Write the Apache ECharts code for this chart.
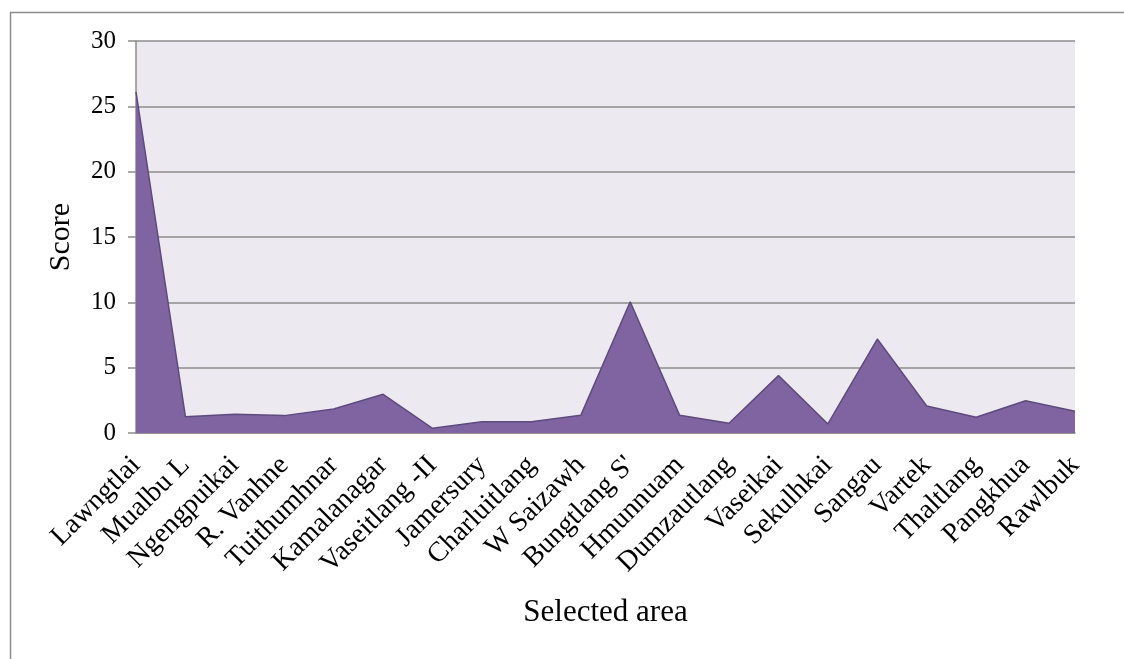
<!DOCTYPE html>
<html>
<head>
<meta charset="utf-8">
<script src="https://cdn.jsdelivr.net/npm/echarts@6/dist/echarts.min.js"></script>
<style>html,body{margin:0;padding:0;background:#fff;}#c{width:1124px;height:659px;}</style>
</head>
<body>
<div id="c"></div>
<script>
const categories = ['Lawngtlai','Mualbu L','Ngengpuikai','R. Vanhne','Tuithumhnar','Kamalanagar','Vaseitlang -II','Jamersury','Charluitlang','W Saizawh','Bungtlang S\'','Hmunnuam','Dumzautlang','Vaseikai','Sekulhkai','Sangau','Vartek','Thaltlang','Pangkhua','Rawlbuk'];
const scores = [26.1, 1.25, 1.43, 1.33, 1.84, 2.96, 0.36, 0.87, 0.87, 1.35, 10.05, 1.35, 0.74, 4.39, 0.69, 7.19, 2.07, 1.2, 2.47, 1.66];
const yTicks = {min: 0, max: 30, interval: 5};

const chart = echarts.init(document.getElementById('c'));
const serif = '"Liberation Serif","Times New Roman",serif';
chart.setOption({
  animation: false,
  graphic: [{
    type: 'rect', shape: {x: 10.5, y: 12.5, width: 1200, height: 700},
    style: {fill: 'none', stroke: '#8c8c8c', lineWidth: 1.5}, z: -10
  }],
  grid: {left: 136, right: 49, top: 41, bottom: 226, show: true, backgroundColor: '#ECEAF0', borderWidth: 0},
  xAxis: {
    type: 'category', data: categories, boundaryGap: false,
    name: 'Selected area', nameLocation: 'middle', nameGap: 164,
    nameTextStyle: {fontFamily: serif, fontSize: 31, color: '#000'},
    axisLine: {lineStyle: {color: '#8c8c8c', width: 1.5}},
    axisTick: {show: false},
    axisLabel: {rotate: 45, interval: 0, fontFamily: serif, fontSize: 28, color: '#000', margin: 28},
    splitLine: {show: false}
  },
  yAxis: {
    type: 'value', min: yTicks.min, max: yTicks.max, interval: yTicks.interval,
    name: 'Score', nameLocation: 'middle', nameGap: 60,
    nameTextStyle: {fontFamily: serif, fontSize: 30, color: '#000'},
    axisLine: {show: true, lineStyle: {color: '#8c8c8c', width: 1.5}},
    axisTick: {show: true, length: 8, lineStyle: {color: '#8c8c8c', width: 1.5}},
    axisLabel: {fontFamily: serif, fontSize: 25, color: '#000', margin: 20},
    splitLine: {lineStyle: {color: '#8c8c8c', width: 1.5}}
  },
  series: [{
    type: 'line', data: scores, symbol: 'none',
    lineStyle: {color: '#5E4B7E', width: 1.5},
    areaStyle: {color: '#8064A2', opacity: 1}
  }]
});
</script>
</body>
</html>
